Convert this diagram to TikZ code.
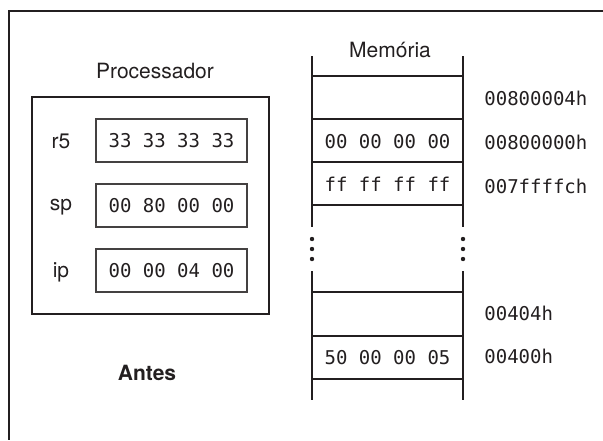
\documentclass[tikz,border=0pt]{standalone}
\usepackage{fontspec}
\setmainfont{TeX Gyre Heros}
\newfontfamily\monof{DejaVu Sans Mono}
\definecolor{ink}{HTML}{231F20}
\begin{document}
\begin{tikzpicture}[x=0.5pt,y=-0.5pt,
  every node/.style={text=ink, inner sep=0pt},
  lbl/.style={font=\fontsize{10.5}{12}\selectfont},
  mono/.style={font=\monof\fontsize{9.5}{11}\selectfont},
  regbox/.style={draw=ink!85, line width=0.6pt, minimum width=75.5pt, minimum height=21.5pt, mono},
  cpubox/.style={draw=ink, line width=1.1pt},
  memline/.style={draw=ink, line width=0.8pt},
  frameline/.style={draw=ink, line width=0.6pt},
  addr/.style={mono, anchor=west}]
\useasboundingbox (0,0) rectangle (603,440);
% frame
\coordinate (ftr) at (603,11);
\coordinate (ftl) at (9,11);
\coordinate (fbl) at (9,440);
\draw[frameline] (ftr) -- (ftl) -- (fbl);
% processor
\node[lbl] (proc) at (155,71) {Processador};
\node[cpubox, minimum width=118.5pt, minimum height=108.5pt] (cpu) at (150.5,205.5) {};
\node[regbox] (r5box) at (171.5,140.5) {33 33 33 33};
\node[regbox] (spbox) at (171.5,205.5) {00 80 00 00};
\node[regbox] (ipbox) at (171.5,270.5) {00 00 04 00};
\node[lbl] (r5) at (61,141) {r5};
\node[lbl] (sp) at (61,207) {sp};
\node[lbl] (ip) at (61,272) {ip};
\node[lbl, font=\bfseries\fontsize{10.5}{12}\selectfont] (antes) at (147,373) {Antes};
% memory
\node[lbl] (mem) at (390,50) {Memória};
\coordinate (mL1) at (312,56);
\coordinate (mL2) at (312,227);
\coordinate (mR1) at (463,56);
\coordinate (mR2) at (463,227);
\coordinate (mL3) at (312,271);
\coordinate (mL4) at (312,400);
\coordinate (mR3) at (463,271);
\coordinate (mR4) at (463,400);
\draw[memline] (mL1) -- (mL2) (mR1) -- (mR2) (mL3) -- (mL4) (mR3) -- (mR4);
\foreach \y in {76,119,162,205,292,336,379}
  \draw[memline] (312,\y) -- (463,\y);
\foreach \y in {239,249,259} {
  \fill[ink] (312,\y) circle (1.1pt);
  \fill[ink] (463,\y) circle (1.1pt);
}
\node[mono] (c1) at (387.5,142) {00 00 00 00};
\node[mono] (c2) at (387.5,184) {ff ff ff ff};
\node[mono] (c3) at (387.5,358) {50 00 00 05};
\node[addr] (a1) at (484,98) {00800004h};
\node[addr] (a2) at (484,142) {00800000h};
\node[addr] (a3) at (484,186) {007ffffch};
\node[addr] (a4) at (484,313) {00404h};
\node[addr] (a5) at (484,356) {00400h};
\end{tikzpicture}
\end{document}
